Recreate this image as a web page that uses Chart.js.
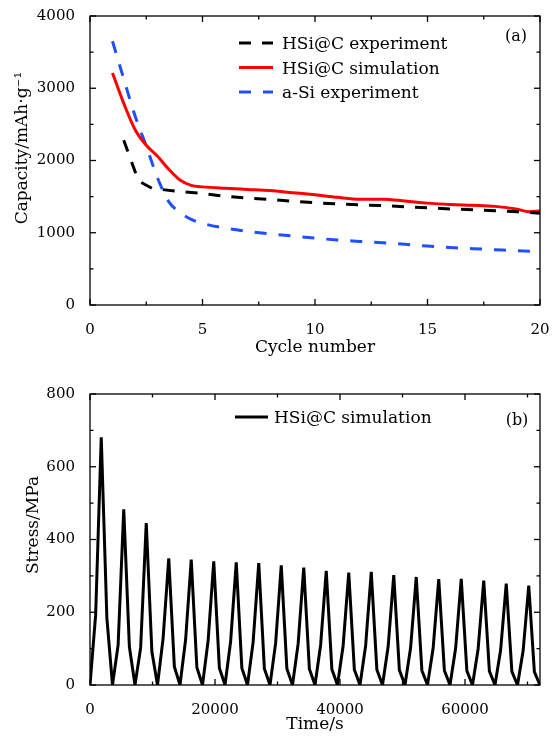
<!DOCTYPE html>
<html><head><meta charset="utf-8">
<script src="https://cdn.jsdelivr.net/npm/chart.js@4.4.0/dist/chart.umd.min.js"></script>
<style>
body{margin:0;background:#fff;}
.box{position:absolute;left:0;width:558px;height:370px;}
#a{top:0}#b{top:370px}
</style>
</head><body>
<div class="box" id="a"><canvas id="c1" width="558" height="370"></canvas></div>
<div class="box" id="b"><canvas id="c2" width="558" height="370"></canvas></div>
<script>
// ---------- data (a) ----------
const hsicExpCycles   = [1.5, 2, 2.25, 2.75, 3, 4, 5, 6, 7, 8, 9, 10, 11, 12, 13, 14, 15, 16, 17, 18, 19, 20];
const hsicExpCapacity = [2280, 1850, 1700, 1615, 1605, 1570, 1545, 1505, 1480, 1460, 1435, 1415, 1400, 1385, 1375, 1360, 1345, 1330, 1320, 1305, 1290, 1270];
const hsicSimCycles   = [1, 1.5, 2, 2.5, 3, 3.5, 4, 4.5, 5, 6, 7, 8, 9, 10, 11, 12, 13, 14, 15, 16, 17, 18, 19, 19.5, 20];
const hsicSimCapacity = [3210, 2790, 2430, 2210, 2060, 1880, 1730, 1655, 1635, 1615, 1600, 1585, 1555, 1525, 1490, 1465, 1465, 1440, 1410, 1390, 1380, 1365, 1325, 1290, 1300];
const aSiCycles       = [1, 1.5, 2, 2.5, 3, 3.5, 4, 4.5, 5, 6, 7, 8, 9, 10, 11, 12, 13, 14, 15, 16, 17, 18, 19, 20];
const aSiCapacity     = [3650, 3130, 2620, 2200, 1760, 1430, 1280, 1185, 1130, 1065, 1020, 985, 955, 925, 900, 880, 860, 840, 815, 795, 780, 765, 750, 740];
const capacityTicks   = [0, 1000, 2000, 3000, 4000];
const cycleTicks      = [0, 5, 10, 15, 20];

// ---------- data (b) ----------
const timeSeconds = [0,900,1800,2700,3600,4500,5400,6300,7200,8100,9000,9900,10800,11700,12600,13500,14400,15300,16200,17100,18000,18900,19800,20700,21600,22500,23400,24300,25200,26100,27000,27900,28800,29700,30600,31500,32400,33300,34200,35100,36000,36900,37800,38700,39600,40500,41400,42300,43200,44100,45000,45900,46800,47700,48600,49500,50400,51300,52200,53100,54000,54900,55800,56700,57600,58500,59400,60300,61200,62100,63000,63900,64800,65700,66600,67500,68400,69300,70200,71100,72000];
const stressMPa = [0,192,681,184, 0,110,483,105, 0,102,445,92, 0,129,348,50, 0,125,345,48, 0,122,340,47, 0,120,337,46, 0,118,335,45, 0,115,329,45, 0,113,323,44, 0,110,314,43, 0,108,309,42, 0,108,311,42, 0,105,302,41, 0,103,297,40, 0,101,291,40, 0,101,292,39, 0,99,287,38, 0,96,279,37, 0,94,273,36, 0];
const stressTicks = [0, 200, 400, 600, 800];
const timeTicks   = [0, 20000, 40000, 60000];

const FONT = 'DejaVu Serif';
Chart.defaults.font.family = FONT;
Chart.defaults.font.size = 15;
Chart.defaults.color = '#000';

function pts(xs, ys){ return xs.map((x,i)=>({x:x, y:ys[i]})); }

function decorPlugin(cfg){
  return {
    id:'decor',
    afterDraw(chart){
      const ctx = chart.ctx, a = chart.chartArea, x = chart.scales.x, y = chart.scales.y;
      ctx.save();
      ctx.strokeStyle = '#000'; ctx.lineWidth = 1.3;
      ctx.strokeRect(a.left, a.top, a.right - a.left, a.bottom - a.top);
      const seg = (x1,y1,x2,y2)=>{ctx.beginPath();ctx.moveTo(x1,y1);ctx.lineTo(x2,y2);ctx.stroke();};
      const isMaj = (v,m)=>Math.abs(v/m - Math.round(v/m)) < 1e-6;
      for (let v = x.min; v <= x.max + 1e-9; v += cfg.xMinor){
        const p = x.getPixelForValue(v), L = isMaj(v,cfg.xMajor) ? 6 : 3.5;
        seg(p, a.bottom, p, a.bottom - L); seg(p, a.top, p, a.top + L);
      }
      for (let v = y.min; v <= y.max + 1e-9; v += cfg.yMinor){
        const p = y.getPixelForValue(v), L = isMaj(v,cfg.yMajor) ? 6 : 3.5;
        seg(a.left, p, a.left + L, p); seg(a.right, p, a.right - L, p);
      }
      ctx.fillStyle = '#000';
      // y title
      ctx.font = '17px "' + FONT + '"';
      ctx.save();
      ctx.translate(cfg.yTitleX, cfg.yTitleY);
      ctx.rotate(-Math.PI/2);
      ctx.textAlign = 'center'; ctx.textBaseline = 'middle';
      ctx.fillText(cfg.yTitle, 0, 0);
      ctx.restore();
      // panel label
      ctx.font = '16px "' + FONT + '"';
      ctx.textAlign = 'center'; ctx.textBaseline = 'middle';
      ctx.fillText(cfg.panel, cfg.panelX, cfg.panelY);
      // legend
      ctx.font = '17px "' + FONT + '"';
      ctx.textAlign = 'left'; ctx.textBaseline = 'alphabetic';
      chart.data.datasets.forEach((ds,i)=>{
        const ly = cfg.legY + i*cfg.legGap;
        ctx.save();
        ctx.strokeStyle = ds.borderColor; ctx.lineWidth = ds.borderWidth;
        ctx.setLineDash(ds.borderDash || []);
        seg(cfg.legX1, ly, cfg.legX2, ly);
        ctx.restore();
        ctx.fillText(ds.label, cfg.legTextX, ly + 6);
      });
      ctx.restore();
    }
  };
}

function axisX(min,max,title,titlePad,h,ticksArr){
  return {type:'linear', min:min, max:max,
    afterBuildTicks(s){ s.ticks = ticksArr.map(v=>({value:v})); },
    ticks:{padding:8, color:'#000', callback:v=>String(v)},
    grid:{display:false}, border:{display:false},
    title:{display:true, text:title, color:'#000', font:{size:17}, padding:{top:0,bottom:titlePad}},
    afterFit(s){ s.height = h; }};
}
function axisY(min,max,ticksArr){
  return {type:'linear', min:min, max:max,
    afterBuildTicks(s){ s.ticks = ticksArr.map(v=>({value:v})); },
    ticks:{padding:7, color:'#000', callback:v=>String(v)},
    grid:{display:false}, border:{display:false},
    afterFit(s){ s.width = 90; }};
}

new Chart(document.getElementById('c1'), {
  type:'line',
  data:{datasets:[
    {label:'HSi@C experiment', data:pts(hsicExpCycles,hsicExpCapacity), borderColor:'#000', borderWidth:3, borderDash:[12,11], pointRadius:0, tension:0, fill:false},
    {label:'HSi@C simulation', data:pts(hsicSimCycles,hsicSimCapacity), borderColor:'#ff0000', borderWidth:3, pointRadius:0, cubicInterpolationMode:'monotone', fill:false},
    {label:'a-Si experiment', data:pts(aSiCycles,aSiCapacity), borderColor:'#1f4fff', borderWidth:3, borderDash:[12,12], pointRadius:0, cubicInterpolationMode:'monotone', fill:false}
  ]},
  options:{responsive:false, animation:false, devicePixelRatio:1,
    layout:{padding:{top:14,right:18,left:0,bottom:0}},
    plugins:{legend:{display:false}, tooltip:{enabled:false}},
    scales:{x:axisX(0,20,'Cycle number',12,65,cycleTicks), y:axisY(0,4000,capacityTicks)}
  },
  plugins:[decorPlugin({xMinor:2.5,xMajor:5,yMinor:500,yMajor:1000,
    yTitle:'Capacity/mAh·g⁻¹', yTitleX:23, yTitleY:148,
    panel:'(a)', panelX:516, panelY:37,
    legX1:239, legX2:273, legTextX:282, legY:43, legGap:24.5})]
});

new Chart(document.getElementById('c2'), {
  type:'line',
  data:{datasets:[
    {label:'HSi@C simulation', data:pts(timeSeconds,stressMPa), borderColor:'#000', borderWidth:3, pointRadius:0, tension:0, fill:false}
  ]},
  options:{responsive:false, animation:false, devicePixelRatio:1,
    layout:{padding:{top:24,right:18,left:0,bottom:0}},
    plugins:{legend:{display:false}, tooltip:{enabled:false}},
    scales:{x:axisX(0,72000,'Time/s',5,55,timeTicks), y:axisY(0,800,stressTicks)}
  },
  plugins:[decorPlugin({xMinor:10000,xMajor:20000,yMinor:100,yMajor:200,
    yTitle:'Stress/MPa', yTitleX:34, yTitleY:155,
    panel:'(b)', panelX:517, panelY:51,
    legX1:235, legX2:268, legTextX:274, legY:47, legGap:25})]
});
</script>
</body></html>
